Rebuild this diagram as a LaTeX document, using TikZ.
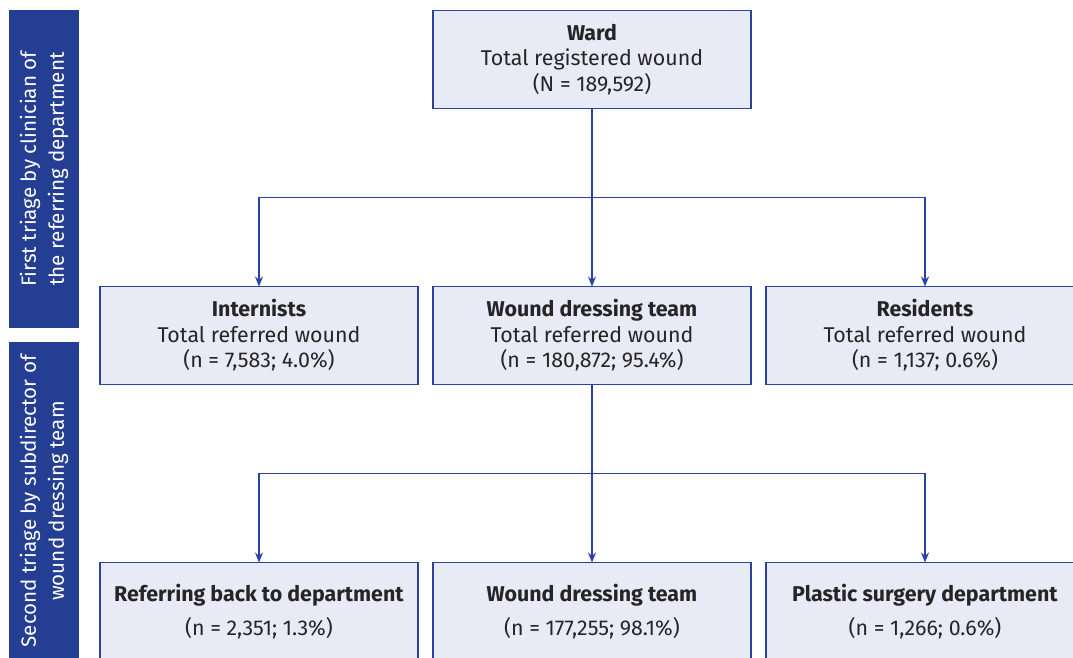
\documentclass[tikz,border=0pt]{standalone}
\usepackage{fontspec}
\setmainfont{Fira Sans}
\usepackage{xcolor}
\usetikzlibrary{positioning, arrows.meta}
\definecolor{barblue}{RGB}{36,62,148}
\definecolor{lineblue}{RGB}{42,66,165}
\definecolor{boxfill}{RGB}{232,235,245}
\definecolor{textgray}{RGB}{38,36,38}
\tikzset{
x=1pt, y=1pt, % work in pixels of the reference
>={Stealth[length=10pt, width=8pt]}, % small filled arrow heads
node distance=178pt and 15pt, % gaps between the boxes
box/.style={rectangle, draw=lineblue, fill=boxfill, line width=1.5pt, outer sep=0pt,
  minimum width=318pt, minimum height=98pt, inner sep=0pt, align=center,
  text=textgray, font=\fontsize{21.4}{25.5}\selectfont}, % every flow box
sidebar/.style={rectangle, fill=barblue, rotate=90, minimum width=318pt,
  minimum height=70pt, align=center, text=white,
  font=\fontsize{20.6}{28}\selectfont}, % the blue stage labels on the left
flow/.style={draw=lineblue, line width=1.5pt}, % the connectors
}

\begin{document}
\begin{tikzpicture}
\useasboundingbox (0,0) rectangle (1073,-657);
\clip (0,0) rectangle (1073,-657);
% stage labels
\node[sidebar] (bar1) at (44,-169) {First triage by clinician of\\the referring department};
\node[sidebar] (bar2) at (44,-501) {Second triage by subdirector of\\wound dressing team};
% first triage
\node[box] (ward) at (592,-59.5) {\textbf{Ward}\\Total registered wound\\(N = 189,592)};
\node[box, below=of ward] (wdt) {\textbf{Wound dressing team}\\Total referred wound\\(n = 180,872; 95.4\%)};
\node[box, left=of wdt] (intern) {\textbf{Internists}\\Total referred wound\\(n = 7,583; 4.0\%)};
\node[box, right=of wdt] (resid) {\textbf{Residents}\\Total referred wound\\(n = 1,137; 0.6\%)};
% second triage
\node[box, below=of wdt] (wdt2) {\textbf{Wound dressing team}\\[8pt](n = 177,255; 98.1\%)};
\node[box, left=of wdt2] (back) {\textbf{Referring back to department}\\[8pt](n = 2,351; 1.3\%)};
\node[box, right=of wdt2] (plast) {\textbf{Plastic surgery department}\\[8pt](n = 1,266; 0.6\%)};
\coordinate[below=89pt of ward.south] (split1);
\coordinate[below=89pt of wdt.south] (split2);
\draw[flow, ->] (ward) -- (wdt);
\draw[flow, ->] (split1) -| (intern);
\draw[flow, ->] (split1) -| (resid);
\draw[flow, ->] (wdt) -- (wdt2);
\draw[flow, ->] (split2) -| (back);
\draw[flow, ->] (split2) -| (plast);
\end{tikzpicture}
\end{document}
